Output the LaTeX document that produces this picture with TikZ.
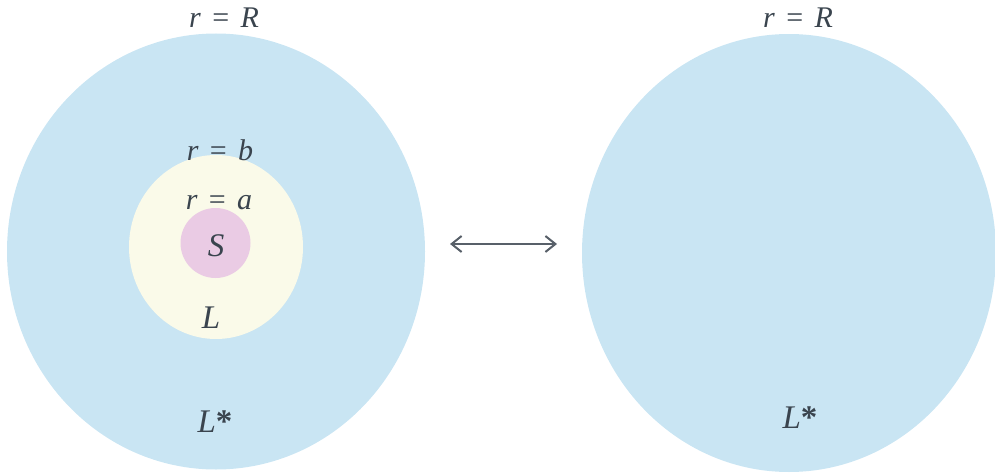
\documentclass[tikz,border=0pt]{standalone}
\usepackage{fontspec}
\usetikzlibrary{arrows.meta}
\setmainfont{Liberation Serif}
\definecolor{outerblue}{RGB}{201,229,243}
\definecolor{midcream}{RGB}{250,250,233}
\definecolor{corepink}{RGB}{234,203,228}
\definecolor{labelgray}{RGB}{58,68,78}
\newcommand{\eqsp}[2]{\textit{#1}\hspace{0.38em}=\hspace{0.38em}\textit{#2}}
\begin{document}
\begin{tikzpicture}[
        x=0.5pt, y=-0.5pt,
        label/.style={text=labelgray, font=\fontsize{15}{18}\selectfont, inner sep=0pt},
        biglabel/.style={label, font=\fontsize{16.5}{19}\selectfont},
        arrow/.style={{Straight Barb[length=5pt,width=8pt]}-{Straight Barb[length=5pt,width=8pt]}, line width=1pt, draw=labelgray!85}
    ]
        \useasboundingbox (0,0) rectangle (995,476);

        % left: three regions
        \fill[outerblue] (216,251.5) ellipse [x radius=209, y radius=218];
        \fill[midcream] (216,247) ellipse [x radius=87, y radius=92];
        \fill[corepink] (215.5,243) circle [radius=35];

        \node[label] (rRleft) at (224,18) {\eqsp{r}{R}};
        \node[label] (rb) at (220,150) {\eqsp{r}{b}};
        \node[label] (ra) at (219,203) {\eqsp{r}{a}};
        \node[biglabel] (solid) at (216,246) {\textit{S}};
        \node[biglabel] (liquid) at (211,318) {\textit{L}};
        \node[biglabel] (outerleft) at (215,422) {\textit{L}\textbf{*}};

        % right: single region
        \fill[outerblue] (789,253) ellipse [x radius=207, y radius=219];
        \node[label] (rRright) at (798,18) {\eqsp{r}{R}};
        \node[biglabel] (outerright) at (800,418) {\textit{L}\textbf{*}};

        \coordinate (arrleft) at (450,244);
        \coordinate (arrright) at (557,244);
        \draw[arrow] (arrleft) -- (arrright);
    \end{tikzpicture}
\end{document}
